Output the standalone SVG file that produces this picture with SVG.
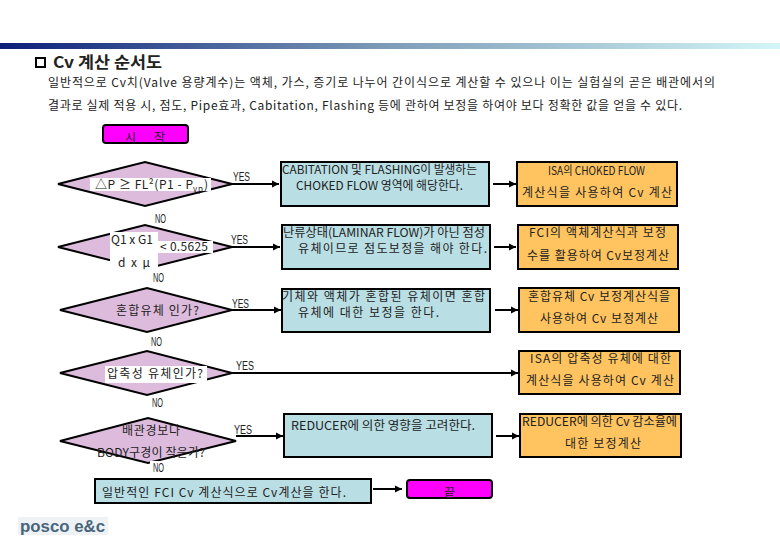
<svg xmlns="http://www.w3.org/2000/svg" width="780" height="540" viewBox="0 0 780 540">
<style>
text{font-family:"Noto Sans CJK KR","Liberation Sans",sans-serif;font-size:12px;fill:#222}
.lat{font-family:"Liberation Sans","Noto Sans CJK KR",sans-serif}
.t{font-family:"Liberation Sans Narrow","Liberation Sans",sans-serif;font-size:13px}
.b{fill:#B9DEE4;stroke:#000;stroke-width:2}
.o{fill:#FFC45F;stroke:#000;stroke-width:2}
.d{fill:#DDBBDD;stroke:#000;stroke-width:2}
.m{fill:#FF00FF;stroke:#000;stroke-width:2}
.w{fill:#fff}
.c{fill:none;stroke:#000;stroke-width:2;marker-end:url(#a)}
</style>
<defs>
<linearGradient id="g"><stop offset="0" stop-color="#0B1F7A"/><stop offset=".5" stop-color="#7E9DB8"/><stop offset="1" stop-color="#D2F6F8"/></linearGradient>
<marker id="a" markerUnits="userSpaceOnUse" markerWidth="8" markerHeight="8" refX="7" refY="4" orient="auto"><path d="M0 .5L7 4L0 7.500z"/></marker>
</defs>
<rect width="780" height="540" fill="#fff"/>
<rect y="43" width="780" height="6" fill="url(#g)"/>
<rect x="36" y="58" width="9" height="9" fill="#fff" stroke="#000" stroke-width="2"/>
<text x="53" y="68" style="font-size:16px;font-weight:700" textLength="109" lengthAdjust="spacingAndGlyphs">Cv 계산 순서도</text>
<text x="48" y="87" textLength="667">일반적으로 Cv치(Valve 용량계수)는 액체, 가스, 증기로 나누어 간이식으로 계산할 수 있으나 이는 실험실의 곧은 배관에서의</text>
<text x="48" y="110" textLength="634">결과로 실제 적용 시, 점도, Pipe효과, Cabitation, Flashing 등에 관하여 보정을 하여야 보다 정확한 값을 얻을 수 있다.</text>

<g id="connectors">
<path class="c" d="M232 184H279"/><path class="c" d="M493 184H516"/>
<path class="c" d="M232 247H280"/><path class="c" d="M494 247H516"/>
<path class="c" d="M232 310H281"/><path class="c" d="M495 310H518"/>
<path class="c" d="M232 373H518"/>
<path class="c" d="M236 436H283"/><path class="c" d="M496 436H519"/>
<path class="c" d="M373 489H402"/>
</g>
<g id="edge-labels">
<text class="t" x="233" y="181" textLength="17" lengthAdjust="spacingAndGlyphs">YES</text><text class="t" x="231" y="244" textLength="17" lengthAdjust="spacingAndGlyphs">YES</text><text class="t" x="232" y="308" textLength="17" lengthAdjust="spacingAndGlyphs">YES</text><text class="t" x="236" y="370" textLength="18" lengthAdjust="spacingAndGlyphs">YES</text><text class="t" x="234" y="434" textLength="18" lengthAdjust="spacingAndGlyphs">YES</text>
<text class="t" x="155" y="223" textLength="11" lengthAdjust="spacingAndGlyphs">NO</text><text class="t" x="153" y="282" textLength="11" lengthAdjust="spacingAndGlyphs">NO</text><text class="t" x="151" y="346" textLength="11" lengthAdjust="spacingAndGlyphs">NO</text><text class="t" x="152" y="407" textLength="11" lengthAdjust="spacingAndGlyphs">NO</text>
</g>

<g id="start"><rect class="m" x="103" y="125" width="85" height="18" rx="3"/><text x="125" y="142" textLength="40">시   작</text></g>

<g id="decision1"><path class="d" d="M58 184L145 162L232 184L145 206z"/><rect class="w" x="90" y="178" width="121" height="13"/><text x="95" y="189" textLength="98">△P ≥ FL²(P1 - P</text><text x="193" y="192" style="font-size:8px" textLength="10">vp</text><text x="204" y="189">)</text></g>
<g id="decision2"><path class="d" d="M58 247L145 225L232 247L145 269z"/><rect class="w" x="110" y="232" width="48" height="38"/><rect class="w" x="158" y="241" width="55" height="12"/><text x="111" y="244" textLength="42">Q1 x G1</text><text x="118" y="267" textLength="32">d x  μ</text><text x="160" y="251" textLength="48">&lt; 0.5625</text></g>
<g id="decision3"><path class="d" d="M60 310L147 288L232 310L147 332z"/><text x="116" y="315" textLength="83">혼합유체 인가?</text></g>
<g id="decision4"><path class="d" d="M60 373L147 351L232 373L147 395z"/><rect class="w" x="105" y="366" width="102" height="17"/><text x="107" y="378" textLength="96">압축성 유체인가?</text></g>
<g id="decision5"><path class="d" d="M60 441L148 418L236 441L148 463z"/><text x="122" y="435" textLength="58">배관경보다</text><text x="97" y="457" textLength="108">BODY구경이 작은가?</text><rect class="w" x="150" y="461" width="18" height="12"/><text class="t" x="153" y="472" textLength="11" lengthAdjust="spacingAndGlyphs">NO</text></g>

<g id="box1"><rect class="b" x="281" y="162" width="208" height="44"/><text x="282" y="174" textLength="195" lengthAdjust="spacingAndGlyphs">CABITATION 및 FLASHING이 발생하는</text><text x="296" y="190" textLength="167" lengthAdjust="spacingAndGlyphs">CHOKED FLOW 영역에 해당한다.</text></g>
<g id="box2"><rect class="b" x="282" y="225" width="208" height="44"/><text x="283" y="237" textLength="202" lengthAdjust="spacingAndGlyphs">난류상태(LAMINAR FLOW)가 아닌 점성</text><text x="298" y="253" textLength="189">유체이므로 점도보정을 해야 한다.</text></g>
<g id="box3"><rect class="b" x="282" y="289" width="208" height="43"/><text x="282" y="301" textLength="203">기체와 액체가 혼합된 유체이면 혼합</text><text x="298" y="317" textLength="141">유체에 대한 보정을 한다.</text></g>
<g id="box4"><rect class="b" x="284" y="414" width="208" height="43"/><text x="291" y="430" textLength="184" lengthAdjust="spacingAndGlyphs">REDUCER에 의한 영향을 고려한다.</text></g>
<g id="box5"><rect class="b" x="95" y="479" width="276" height="24"/><text x="102" y="497" textLength="244">일반적인 FCI Cv 계산식으로 Cv계산을 한다.</text></g>

<g id="calc1"><rect class="o" x="517" y="162" width="160" height="44"/><text x="548" y="175" textLength="97" lengthAdjust="spacingAndGlyphs">ISA의 CHOKED FLOW</text><text x="522" y="197" textLength="150">계산식을 사용하여 Cv 계산</text></g>
<g id="calc2"><rect class="o" x="518" y="225" width="160" height="44"/><text x="529" y="237" textLength="137">FCI의 액체계산식과 보정</text><text x="527" y="260" textLength="142">수를 활용하여 Cv보정계산</text></g>
<g id="calc3"><rect class="o" x="519" y="288" width="160" height="44"/><text x="528" y="301" textLength="142">혼합유체 Cv 보정계산식을</text><text x="540" y="323" textLength="118">사용하여 Cv 보정계산</text></g>
<g id="calc4"><rect class="o" x="519" y="351" width="161" height="43"/><text x="530" y="363" textLength="141">ISA의 압축성 유체에 대한</text><text x="526" y="385" textLength="148">계산식을 사용하여 Cv 계산</text></g>
<g id="calc5"><rect class="o" x="520" y="414" width="161" height="43"/><text x="522" y="426" textLength="155" lengthAdjust="spacingAndGlyphs">REDUCER에 의한 Cv 감소율에</text><text x="565" y="448" textLength="76">대한 보정계산</text></g>

<g id="end"><rect class="m" x="407" y="480" width="85" height="18" rx="3"/><text x="444" y="497" textLength="11">끝</text></g>

<g id="logo"><rect x="18" y="517" width="90" height="18" fill="#EEF2F4"/><text class="lat" x="20" y="532" style="font-size:17px;font-weight:700;fill:#48657C" textLength="85" lengthAdjust="spacingAndGlyphs">posco e&amp;c</text></g>
</svg>
